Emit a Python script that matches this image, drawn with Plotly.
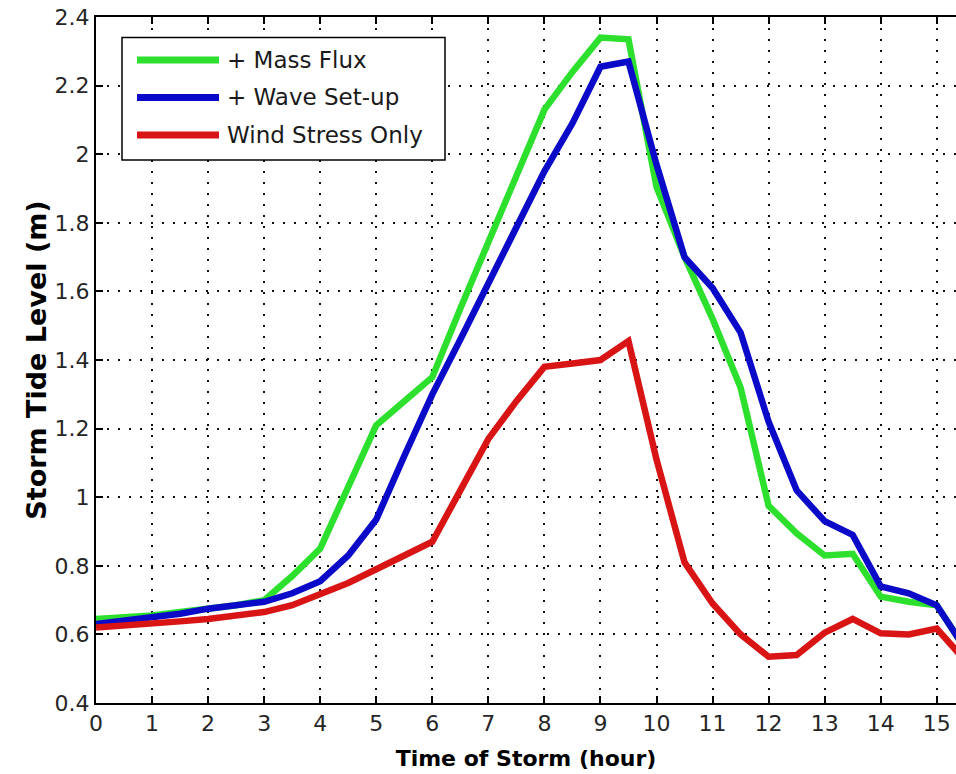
import plotly.graph_objects as go

# ---------------- data ----------------
time_h = [0, 0.5, 1, 1.5, 2, 2.5, 3, 3.5, 4, 4.5, 5, 5.5, 6, 6.5, 7, 7.5, 8,
          8.5, 9, 9.5, 10, 10.5, 11, 11.5, 12, 12.5, 13, 13.5, 14, 14.5, 15, 15.5]

mass_flux = [0.645, 0.65, 0.655, 0.665, 0.675, 0.685, 0.70, 0.77, 0.85, 1.03,
             1.21, 1.28, 1.35, 1.55, 1.74, 1.94, 2.13, 2.24, 2.34, 2.335,
             1.905, 1.70, 1.52, 1.32, 0.975, 0.895, 0.83, 0.835, 0.71, 0.695,
             0.685, 0.56]

wave_setup = [0.63, 0.64, 0.65, 0.66, 0.675, 0.685, 0.695, 0.72, 0.755, 0.83,
              0.935, 1.12, 1.30, 1.46, 1.625, 1.79, 1.95, 2.09, 2.255, 2.27,
              1.97, 1.70, 1.61, 1.48, 1.22, 1.02, 0.93, 0.89, 0.74, 0.72,
              0.685, 0.56]

wind_stress = [0.62, 0.625, 0.63, 0.638, 0.645, 0.655, 0.665, 0.685, 0.715, 0.75,
               0.79, 0.83, 0.87, 1.02, 1.17, 1.28, 1.38, 1.39, 1.40, 1.455,
               1.11, 0.81, 0.69, 0.60, 0.535, 0.54, 0.605, 0.645, 0.603, 0.60,
               0.617, 0.525]

series_names = ["+ Mass Flux", "+ Wave Set-up", "Wind Stress Only"]
series_values = [mass_flux, wave_setup, wind_stress]
series_colors = ["#2EE02E", "#0A0AC8", "#D81414"]

x_tick_vals = list(range(0, 16))
x_tick_text = [str(v) for v in x_tick_vals]
y_tick_vals = [0.4, 0.6, 0.8, 1.0, 1.2, 1.4, 1.6, 1.8, 2.0, 2.2, 2.4]
y_tick_text = ["0.4", "0.6", "0.8", "1", "1.2", "1.4", "1.6", "1.8", "2", "2.2", "2.4"]

x_title = "Time of Storm (hour)"
y_title = "Storm Tide Level (m)"

# ---------------- layout geometry (pixels) ----------------
W, H = 956, 774
ML, MR, MT, MB = 96, 0, 17, 71
PW, PH = W - ML - MR, H - MT - MB


def px_x(px):
    return (px - ML) / PW


def px_y(py):
    return (H - MB - py) / PH


fig = go.Figure()
for name, vals, col in zip(series_names, series_values, series_colors):
    fig.add_trace(go.Scatter(x=time_h, y=vals, mode="lines", name=name,
                             line=dict(color=col, width=6.5),
                             showlegend=False))

# custom legend (MATLAB style, long line samples)
shapes = [dict(type="rect", xref="paper", yref="paper",
               x0=px_x(122), x1=px_x(445), y0=px_y(160), y1=px_y(37.5),
               line=dict(color="black", width=1.5), fillcolor="white", layer="above")]
annotations = []
row_y = [60, 97.5, 135]
for name, col, ry in zip(series_names, series_colors, row_y):
    shapes.append(dict(type="line", xref="paper", yref="paper",
                       x0=px_x(137), x1=px_x(219), y0=px_y(ry), y1=px_y(ry),
                       line=dict(color=col, width=7), layer="above"))
    annotations.append(dict(xref="paper", yref="paper", x=px_x(225), y=px_y(ry),
                            text=name, showarrow=False, xanchor="left", yanchor="middle",
                            font=dict(family="DejaVu Sans", size=23, color="#1a1a1a")))

grid_dash = "2px,9px"
fig.update_layout(
    width=W, height=H,
    margin=dict(l=ML, r=MR, t=MT, b=MB, autoexpand=False),
    paper_bgcolor="white", plot_bgcolor="white",
    shapes=shapes, annotations=annotations,
    font=dict(family="DejaVu Sans", size=22, color="#262626"),
    xaxis=dict(range=[0, (W - ML) / 56.05], tickmode="array",
               tickvals=x_tick_vals, ticktext=x_tick_text,
               showline=True, linecolor="black", linewidth=2, mirror="ticks",
               ticks="inside", ticklen=7, tickwidth=1.5, tickcolor="black",
               showgrid=True, gridcolor="#111111", gridwidth=2, griddash=grid_dash,
               zeroline=False,
               tickfont=dict(family="DejaVu Sans", size=22, color="#262626"),
               title=dict(text=x_title, standoff=15,
                          font=dict(family="DejaVu Sans", size=22, color="black", weight="bold"))),
    yaxis=dict(range=[0.4, 2.4], tickmode="array",
               tickvals=y_tick_vals, ticktext=y_tick_text,
               showline=True, linecolor="black", linewidth=2, mirror=False,
               ticks="inside", ticklen=7, tickwidth=1.5, tickcolor="black",
               showgrid=True, gridcolor="#111111", gridwidth=2, griddash=grid_dash,
               zeroline=False,
               tickfont=dict(family="DejaVu Sans", size=22, color="#262626"),
               title=dict(text=y_title, standoff=0,
                          font=dict(family="DejaVu Sans", size=27, color="black", weight="bold"))),
)

fig.write_html("out.html", config={"displayModeBar": False},
               post_script="document.body.style.margin='0';document.body.style.overflow='hidden';")
